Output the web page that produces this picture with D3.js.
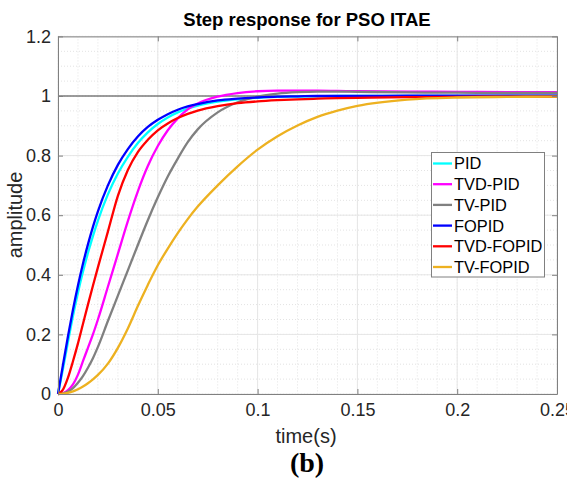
<!DOCTYPE html>
<html>
<head>
<meta charset="utf-8">
<script src="https://cdn.jsdelivr.net/npm/d3@7"></script>
<style>
  body { margin: 0; background: #fff; }
  svg { display: block; font-family: "Liberation Sans", Arial, sans-serif; }
</style>
</head>
<body>
<svg width="567" height="481"></svg>
<script>
// time grid (s) shared by every series
const time = [0, 0.0025, 0.005, 0.0075, 0.01, 0.0125, 0.015, 0.0175, 0.02, 0.025, 0.03, 0.035, 0.04, 0.045,
  0.05, 0.055, 0.06, 0.065, 0.07, 0.08, 0.09, 0.1, 0.11, 0.12, 0.13, 0.14, 0.15, 0.175, 0.2, 0.225, 0.25];

const pid       = [0, 0.085, 0.175, 0.262, 0.34, 0.41, 0.473, 0.53, 0.582, 0.67, 0.74, 0.796, 0.842, 0.878,
  0.906, 0.928, 0.945, 0.958, 0.968, 0.981, 0.989, 0.994, 0.997, 0.998, 0.999, 1.0, 1.0, 1.0, 1.0, 1.0, 1.0];
const tvdPid    = [0, 0.003, 0.013, 0.032, 0.065, 0.11, 0.155, 0.2, 0.25, 0.36, 0.47, 0.58, 0.68, 0.765,
  0.832, 0.885, 0.925, 0.955, 0.975, 0.998, 1.01, 1.016, 1.018, 1.018, 1.018, 1.017, 1.016, 1.015, 1.014, 1.013, 1.013];
const tvPid     = [0, 0.002, 0.008, 0.02, 0.038, 0.06, 0.088, 0.12, 0.158, 0.245, 0.33, 0.415, 0.5, 0.583,
  0.66, 0.73, 0.79, 0.845, 0.888, 0.945, 0.979, 0.998, 1.008, 1.013, 1.015, 1.015, 1.014, 1.012, 1.011, 1.01, 1.01];
const fopid     = [0, 0.098, 0.194, 0.283, 0.364, 0.437, 0.502, 0.561, 0.613, 0.7, 0.769, 0.822, 0.864, 0.896,
  0.92, 0.939, 0.954, 0.965, 0.973, 0.985, 0.991, 0.995, 0.998, 0.999, 1.0, 1.0, 1.0, 1.001, 1.001, 1.001, 1.001];
const tvdFopid  = [0, 0.015, 0.055, 0.11, 0.17, 0.235, 0.3, 0.363, 0.425, 0.545, 0.665, 0.752, 0.812, 0.853,
  0.885, 0.908, 0.926, 0.94, 0.951, 0.966, 0.976, 0.982, 0.986, 0.989, 0.991, 0.993, 0.994, 0.996, 0.997, 0.998, 0.998];
const tvFopid   = [0, 0.001, 0.004, 0.009, 0.016, 0.025, 0.036, 0.049, 0.064, 0.102, 0.155, 0.22, 0.295, 0.366,
  0.432, 0.488, 0.54, 0.587, 0.629, 0.7, 0.764, 0.82, 0.865, 0.901, 0.93, 0.951, 0.967, 0.988, 0.995, 0.997, 0.998];

const seriesNames = ["PID", "TVD-PID", "TV-PID", "FOPID", "TVD-FOPID", "TV-FOPID"];
const seriesValues = [pid, tvdPid, tvPid, fopid, tvdFopid, tvFopid];
const seriesColors = ["#00ffff", "#ff00ff", "#808080", "#0000ff", "#ff0000", "#edb120"];

const xTicks = [0, 0.05, 0.1, 0.15, 0.2, 0.25];
const yTicks = [0, 0.2, 0.4, 0.6, 0.8, 1, 1.2];

var svg = d3.select("svg");
var pLeft = 58, pRight = 557, pTop = 36.4, pBottom = 394;

var x = d3.scaleLinear().domain([0, 0.25]).range([pLeft, pRight]);
var y = d3.scaleLinear().domain([0, 1.2]).range([pBottom, pTop]);

// minor grid (dotted)
var g = svg.append("g");
d3.range(0, 0.2501, 0.01).forEach(v => {
    g.append("line").attr("x1", x(v)).attr("x2", x(v)).attr("y1", pTop).attr("y2", pBottom)
        .attr("stroke", "#e3e3e3").attr("stroke-dasharray", "1,2");
});
d3.range(0, 1.2001, 0.05).forEach(v => {
    g.append("line").attr("x1", pLeft).attr("x2", pRight).attr("y1", y(v)).attr("y2", y(v))
        .attr("stroke", "#e3e3e3").attr("stroke-dasharray", "1,2");
});
// major grid
xTicks.forEach(v => {
    g.append("line").attr("x1", x(v)).attr("x2", x(v)).attr("y1", pTop).attr("y2", pBottom)
        .attr("stroke", "#e6e6e6");
});
yTicks.forEach(v => {
    g.append("line").attr("x1", pLeft).attr("x2", pRight).attr("y1", y(v)).attr("y2", y(v))
        .attr("stroke", "#e6e6e6");
});

// reference line at 1
svg.append("line").attr("x1", pLeft).attr("x2", pRight).attr("y1", y(1)).attr("y2", y(1))
    .attr("stroke", "#444").attr("stroke-width", 1);

// curves
var line = d3.line().x((d, i) => x(time[i])).y(d => y(d)).curve(d3.curveMonotoneX);
seriesValues.forEach((vals, k) => {
    svg.append("path").attr("d", line(vals)).attr("fill", "none")
        .attr("stroke", seriesColors[k]).attr("stroke-width", 2.3);
});

// axes
var axisColor = "#808080", tickColor = "#262626";
svg.append("g").attr("transform", `translate(0,${pBottom})`)
    .call(d3.axisBottom(x).tickValues(xTicks).tickFormat(d3.format("~g")).tickSizeInner(-5).tickSizeOuter(0).tickPadding(9));
svg.append("g").attr("transform", `translate(${pLeft},0)`)
    .call(d3.axisLeft(y).tickValues(yTicks).tickFormat(d3.format("~g")).tickSizeInner(-5).tickSizeOuter(0).tickPadding(7));
svg.append("g").attr("transform", `translate(0,${pTop})`)
    .call(d3.axisTop(x).tickValues(xTicks).tickFormat("").tickSizeInner(-5).tickSizeOuter(0));
svg.append("g").attr("transform", `translate(${pRight},0)`)
    .call(d3.axisRight(y).tickValues(yTicks).tickFormat("").tickSizeInner(-5).tickSizeOuter(0));
svg.selectAll(".domain").attr("stroke", axisColor);
svg.selectAll(".tick line").attr("stroke", axisColor);
svg.selectAll(".tick text").attr("fill", tickColor).style("font-size", "18px")
    .style("font-family", "'Liberation Sans', Arial, sans-serif");

// title and labels
svg.append("text").attr("x", 307).attr("y", 26).attr("text-anchor", "middle")
    .style("font-size", "18.5px").style("font-weight", "bold").attr("fill", "#000")
    .text("Step response for PSO ITAE");
svg.append("text").attr("x", 306).attr("y", 443).attr("text-anchor", "middle")
    .style("font-size", "20px").attr("fill", tickColor).text("time(s)");
svg.append("text").attr("transform", "translate(22,215) rotate(-90)").attr("text-anchor", "middle")
    .style("font-size", "20px").attr("fill", tickColor).text("amplitude");
svg.append("text").attr("x", 307).attr("y", 472).attr("text-anchor", "middle")
    .style("font-family", "'Liberation Serif', 'Times New Roman', serif")
    .style("font-size", "28px").style("font-weight", "bold").attr("fill", "#000").text("(b)");

// legend
var lg = svg.append("g");
lg.append("rect").attr("x", 431.5).attr("y", 152.5).attr("width", 113).attr("height", 124.5)
    .attr("fill", "#fff").attr("stroke", "#808080");
seriesNames.forEach((name, k) => {
    var cy = 163.5 + k * 20.7;
    lg.append("line").attr("x1", 433).attr("x2", 452).attr("y1", cy).attr("y2", cy)
        .attr("stroke", seriesColors[k]).attr("stroke-width", 2.3);
    lg.append("text").attr("x", 454).attr("y", cy).attr("dy", "0.36em")
        .style("font-size", "16.4px").attr("fill", "#000").text(name);
});
</script>
</body>
</html>
